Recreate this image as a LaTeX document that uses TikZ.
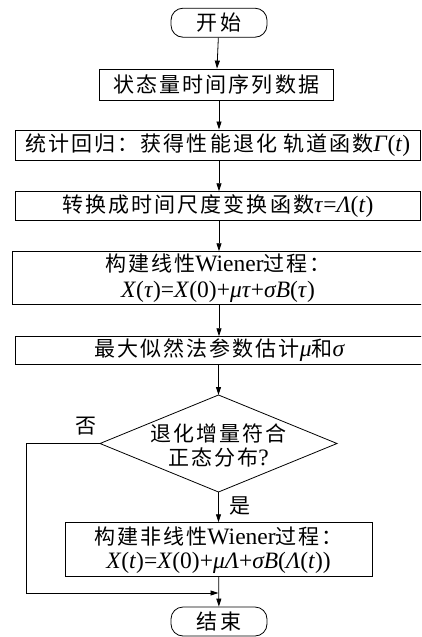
\documentclass[tikz,border=0pt]{standalone}
\usepackage{fontspec}
\setmainfont{Liberation Serif}
\newfontfamily\cjk[LetterSpace=10]{Noto Sans CJK SC}
\usetikzlibrary{arrows.meta}
\newcommand{\zh}[1]{{\fontsize{21}{26}\cjk #1}}
\newcommand{\mi}[1]{\textit{#1}}
\begin{document}
\begin{tikzpicture}[x=1pt,y=-1pt,
  box/.style={draw, line width=0.8pt, inner sep=0pt, font=\fontsize{23.5}{26}\selectfont, align=center},
  term/.style={box, rounded corners=12pt},
  lbl/.style={inner sep=0pt, font=\fontsize{23.5}{26}\selectfont},
  arr/.style={-{Triangle[length=8pt,width=5pt]}, line width=0.8pt},
  ln/.style={line width=0.8pt}]
\useasboundingbox (0,0) rectangle (421,637);
\clip (0,0) rectangle (421,637);
\node[term, minimum width=96pt, minimum height=29pt] (start) at (219,22.7) {\zh{开始}};
\node[box, minimum width=234pt, minimum height=31pt] (s1) at (216.3,84.5) {\zh{状态量时间序列数据}};
\node[box, minimum width=405.5pt, minimum height=30.7pt] (s2) at (217.75,145.3) {\zh{统计回归：获得性能退化} \zh{轨道函数}\mi{Γ}(\mi{t})};
\node[box, minimum width=405.5pt, minimum height=28.3pt] (s3) at (217.75,205.8) {\zh{转换成时间尺度变换函数}\mi{τ}=\mi{Λ}(\mi{t})};
\node[box, minimum width=412pt, minimum height=52.3pt] (s4) at (218,277.8) {\zh{构建线性}Wiener\zh{过程：}\\[0pt]\mi{X}(\mi{τ})=\mi{X}(0)+\mi{μτ}+\mi{σB}(\mi{τ})};
\node[box, minimum width=409pt, minimum height=27.3pt] (s5) at (219.5,350.3) {\zh{最大似然法参数估计}\mi{μ}\zh{和}\mi{σ}};
\node[lbl, align=center] (dec) at (218.5,446) {\zh{退化增量符合}\\[-2pt]\zh{正态分布}?};
\coordinate (dtop) at (218.5,395);
\coordinate (dbot) at (218.5,492);
\coordinate (dleft) at (100,443.5);
\coordinate (dright) at (337,443.5);
\draw[ln] (dtop) -- (dright) -- (dbot) -- (dleft) -- cycle;
\node[box, minimum width=307pt, minimum height=54pt] (s6) at (218.5,549.7) {\zh{构建非线性}Wiener\zh{过程：}\\[-2pt]\mi{X}(\mi{t})=\mi{X}(0)+\mi{μΛ}+\mi{σB}(\mi{Λ}(\mi{t}))};
\node[term, minimum width=96pt, minimum height=29pt] (end) at (219,621.5) {\zh{结束}};
\node[lbl] (no) at (86,426) {\zh{否}};
\node[lbl] (yes) at (240,506) {\zh{是}};
\coordinate (c1) at (26,443.5);
\coordinate (c2) at (26,593);
\coordinate (c3) at (218.5,593);
\draw[arr] (start) -- (s1);
\draw[arr] (s1.south -| start) -- (s2.north -| start);
\draw[arr] (s2.south -| start) -- (s3.north -| start);
\draw[arr] (s3.south -| start) -- (s4.north -| start);
\draw[arr] (s4.south -| start) -- (s5.north -| start);
\draw[arr] (s5.south -| dtop) -- (dtop);
\draw[arr] (dbot) -- (s6.north -| dbot);
\draw[arr] (s6) -- (end);
\draw[arr] (dleft) -- (c1) -- (c2) -- (c3);
\end{tikzpicture}
\end{document}
